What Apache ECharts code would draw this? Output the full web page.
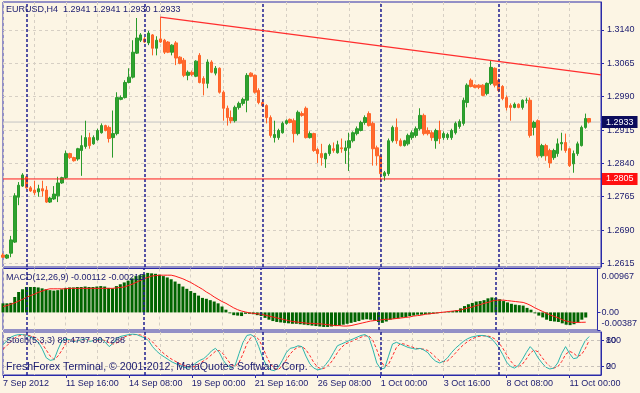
<!DOCTYPE html>
<html><head><meta charset="utf-8">
<script src="https://cdn.jsdelivr.net/npm/echarts@6/dist/echarts.min.js"></script>
<style>html,body{margin:0;padding:0;background:#FCF5E4}#c{width:640px;height:393px}</style>
</head><body><div id="c"></div>
<script>
const symbolTitle = 'EURUSD,H4  1.2941 1.2941 1.2930 1.2933';
const macdTitle = 'MACD(12,26,9) -0.00112 -0.00215';
const stochTitle = 'Stoch(5,3,3) 89.4737 80.7288';
const copyright = 'FreshForex Terminal, \u00A9 2001-2012, MetaQuotes Software Corp.';
const timeTickLabels = ['7 Sep 2012','11 Sep 16:00','14 Sep 08:00','19 Sep 00:00','21 Sep 16:00','26 Sep 08:00','1 Oct 00:00','3 Oct 16:00','8 Oct 08:00','11 Oct 00:00'];
const priceTicks = [1.2615,1.2690,1.2765,1.2840,1.2915,1.2990,1.3065,1.3140];
const macdTicks = [-0.00387, 0, 0.00967];
const stochLevels = [20, 80];
const supportLevel = 1.2805;
const bidPrice = 1.2933;
const trendStart = [40, 1.3169];
const trendEnd = [152, 1.3039];
const weekSeparators = [6, 36, 66, 96, 126];

const opens = [
1.2634,1.2627,1.2638,1.2663,1.2764,1.2789,1.2810,1.2785,1.2780,1.2776,
1.2783,1.2780,1.2753,1.2760,1.2767,1.2796,1.2808,1.2862,1.2853,1.2850,
1.2869,1.2878,1.2898,1.2884,1.2893,1.2909,1.2925,1.2921,1.2898,1.2907,
1.2984,1.2988,1.3022,1.3034,1.3088,1.3117,1.3120,1.3111,1.3129,1.3099,
1.3120,1.3117,1.3113,1.3090,1.3111,1.3079,1.3072,1.3038,1.3045,1.3036,
1.3083,1.3031,1.3020,1.3068,1.3043,1.3054,1.3000,1.2964,1.2943,1.2936,
1.2966,1.2975,1.2982,1.3043,1.3038,1.3004,1.2977,1.2970,1.2943,1.2898,
1.2898,1.2909,1.2930,1.2939,1.2936,1.2907,1.2952,1.2964,1.2898,1.2907,
1.2871,1.2862,1.2850,1.2862,1.2873,1.2864,1.2875,1.2869,1.2875,1.2891,
1.2907,1.2914,1.2932,1.2952,1.2930,1.2875,1.2857,1.2812,1.2817,1.2891,
1.2921,1.2891,1.2880,1.2884,1.2898,1.2903,1.2918,1.2948,1.2914,1.2909,
1.2891,1.2914,1.2898,1.2898,1.2898,1.2909,1.2923,1.2930,1.2977,1.3027,
1.3016,1.3016,1.3016,1.2997,1.3020,1.3054,1.3027,1.3013,1.2988,1.2970,
1.2966,1.2973,1.2966,1.2982,1.2982,1.2921,1.2936,1.2857,1.2880,1.2869,
1.2853,1.2862,1.2884,1.2887,1.2873,1.2839,1.2862,1.2880,1.2921,1.2941];
const closes = [
1.2629,1.2634,1.2668,1.2767,1.2791,1.2814,1.2785,1.2778,1.2774,1.2783,
1.2778,1.2753,1.2762,1.2771,1.2796,1.2808,1.2862,1.2853,1.2846,1.2873,
1.2880,1.2898,1.2880,1.2898,1.2914,1.2925,1.2914,1.2896,1.2907,1.2988,
1.2988,1.3022,1.3034,1.3090,1.3122,1.3129,1.3113,1.3133,1.3099,1.3117,
1.3113,1.3090,1.3090,1.3106,1.3077,1.3065,1.3038,1.3045,1.3040,1.3070,
1.3022,1.3020,1.3068,1.3045,1.3054,1.3000,1.2964,1.2943,1.2936,1.2966,
1.2975,1.2984,1.3038,1.3036,1.3000,1.2977,1.2970,1.2943,1.2903,1.2905,
1.2914,1.2930,1.2936,1.2932,1.2907,1.2955,1.2948,1.2898,1.2907,1.2869,
1.2862,1.2853,1.2862,1.2880,1.2869,1.2882,1.2873,1.2875,1.2891,1.2909,
1.2918,1.2932,1.2943,1.2925,1.2873,1.2857,1.2817,1.2819,1.2891,1.2921,
1.2891,1.2880,1.2891,1.2903,1.2909,1.2918,1.2948,1.2907,1.2907,1.2898,
1.2914,1.2896,1.2907,1.2905,1.2914,1.2930,1.2934,1.2982,1.3016,1.3013,
1.3011,1.3011,1.2993,1.3020,1.3056,1.3016,1.3004,1.2986,1.2966,1.2966,
1.2973,1.2966,1.2982,1.2982,1.2903,1.2932,1.2857,1.2880,1.2857,1.2841,
1.2869,1.2884,1.2887,1.2869,1.2835,1.2862,1.2884,1.2921,1.2941,1.2933];
const lows = [
1.2627,1.2625,1.2629,1.2661,1.2746,1.2787,1.2783,1.2776,1.2769,1.2765,
1.2765,1.2751,1.2751,1.2758,1.2753,1.2794,1.2805,1.2850,1.2844,1.2846,
1.2812,1.2873,1.2873,1.2882,1.2891,1.2907,1.2912,1.2887,1.2853,1.2903,
1.2982,1.2986,1.3020,1.3031,1.3086,1.3113,1.3111,1.3106,1.3083,1.3083,
1.3111,1.3086,1.3088,1.3083,1.3061,1.3063,1.3034,1.3027,1.3036,1.3034,
1.3020,1.2993,1.3009,1.3043,1.3038,1.2997,1.2936,1.2925,1.2930,1.2932,
1.2961,1.2970,1.2955,1.3034,1.2997,1.2973,1.2968,1.2930,1.2898,1.2887,
1.2893,1.2907,1.2927,1.2930,1.2887,1.2903,1.2945,1.2896,1.2896,1.2866,
1.2841,1.2835,1.2830,1.2857,1.2864,1.2862,1.2864,1.2839,1.2823,1.2887,
1.2903,1.2912,1.2927,1.2923,1.2835,1.2835,1.2798,1.2801,1.2812,1.2887,
1.2884,1.2878,1.2878,1.2880,1.2893,1.2898,1.2914,1.2903,1.2903,1.2891,
1.2873,1.2884,1.2893,1.2893,1.2893,1.2905,1.2918,1.2925,1.2966,1.3011,
1.3009,1.3007,1.2991,1.2993,1.3016,1.3011,1.3000,1.2982,1.2959,1.2936,
1.2964,1.2964,1.2961,1.2975,1.2898,1.2903,1.2853,1.2853,1.2846,1.2830,
1.2848,1.2855,1.2869,1.2864,1.2832,1.2819,1.2857,1.2878,1.2918,1.2930];
const highs = [
1.2638,1.2636,1.2677,1.2773,1.2798,1.2818,1.2812,1.2789,1.2801,1.2792,
1.2801,1.2789,1.2765,1.2789,1.2810,1.2810,1.2869,1.2864,1.2855,1.2875,
1.2903,1.2936,1.2909,1.2903,1.2918,1.2930,1.2927,1.2925,1.2959,1.3000,
1.2993,1.3027,1.3054,1.3117,1.3167,1.3133,1.3124,1.3138,1.3131,1.3126,
1.3169,1.3120,1.3115,1.3108,1.3115,1.3081,1.3077,1.3049,1.3049,1.3072,
1.3088,1.3036,1.3074,1.3072,1.3059,1.3056,1.3004,1.2970,1.2959,1.2970,
1.2979,1.2988,1.3043,1.3045,1.3040,1.3009,1.2982,1.2973,1.2948,1.2936,
1.2918,1.2934,1.2939,1.2941,1.2941,1.2959,1.2957,1.2968,1.2912,1.2909,
1.2875,1.2884,1.2864,1.2884,1.2887,1.2891,1.2896,1.2891,1.2909,1.2912,
1.2923,1.2936,1.2948,1.2957,1.2934,1.2880,1.2860,1.2823,1.2896,1.2925,
1.2941,1.2896,1.2893,1.2907,1.2914,1.2923,1.2964,1.2952,1.2921,1.2914,
1.2918,1.2936,1.2912,1.2909,1.2918,1.2934,1.2939,1.2988,1.3020,1.3031,
1.3018,1.3018,1.3018,1.3022,1.3072,1.3056,1.3031,1.3016,1.2993,1.2975,
1.2977,1.2975,1.2984,1.2988,1.2988,1.2936,1.2939,1.2884,1.2884,1.2873,
1.2873,1.2896,1.2909,1.2907,1.2875,1.2869,1.2889,1.2925,1.2952,1.2941];

const macdHist = [
0.0020,0.0020,0.0021,0.0034,0.0045,0.0051,0.0056,0.0056,0.0056,0.0055,
0.0053,0.0051,0.0049,0.0048,0.0049,0.0051,0.0054,0.0055,0.0055,0.0056,
0.0056,0.0057,0.0056,0.0056,0.0057,0.0058,0.0057,0.0054,0.0053,0.0058,
0.0062,0.0066,0.0070,0.0075,0.0080,0.0082,0.0084,0.0087,0.0086,0.0085,
0.0083,0.0080,0.0077,0.0073,0.0068,0.0063,0.0057,0.0052,0.0047,0.0043,
0.0037,0.0032,0.0030,0.0027,0.0024,0.0020,0.0013,0.0006,-0.0002,-0.0006,
-0.0007,-0.0008,-0.0003,-0.0003,-0.0004,-0.0006,-0.0008,-0.0012,-0.0016,-0.0019,
-0.0021,-0.0022,-0.0023,-0.0024,-0.0025,-0.0025,-0.0026,-0.0027,-0.0028,-0.0029,
-0.0030,-0.0031,-0.0032,-0.0032,-0.0031,-0.0030,-0.0029,-0.0027,-0.0025,-0.0023,
-0.0021,-0.0019,-0.0016,-0.0015,-0.0016,-0.0018,-0.0021,-0.0023,-0.0020,-0.0016,
-0.0014,-0.0013,-0.0011,-0.0010,-0.0008,-0.0007,-0.0005,-0.0005,-0.0004,-0.0004,
-0.0003,-0.0002,-0.0001,0.0001,0.0002,0.0003,0.0005,0.0009,0.0014,0.0018,
0.0021,0.0024,0.0025,0.0027,0.0031,0.0033,0.0032,0.0029,0.0025,0.0022,
0.0019,0.0017,0.0016,0.0015,0.0010,0.0006,-0.0002,-0.0007,-0.0011,-0.0016,
-0.0019,-0.0020,-0.0021,-0.0024,-0.0027,-0.0028,-0.0026,-0.0022,-0.0016,-0.00112];
const macdSignal = [
0.0013,0.0015,0.0018,0.0021,0.0025,0.0029,0.0033,0.0037,0.0040,0.0044,
0.0047,0.0050,0.0052,0.0052,0.0052,0.0052,0.0052,0.0053,0.0053,0.0053,
0.0053,0.0053,0.0053,0.0053,0.0053,0.0053,0.0053,0.0053,0.0053,0.0054,
0.0055,0.0056,0.0059,0.0062,0.0066,0.0070,0.0074,0.0077,0.0080,0.0081,
0.0082,0.0082,0.0082,0.0082,0.0080,0.0077,0.0074,0.0070,0.0066,0.0061,
0.0056,0.0051,0.0045,0.0040,0.0034,0.0029,0.0024,0.0020,0.0015,0.0010,
0.0006,0.0003,0.0001,-0.0001,-0.0002,-0.0003,-0.0004,-0.0006,-0.0008,-0.0010,
-0.0012,-0.0014,-0.0016,-0.0018,-0.0020,-0.0021,-0.0022,-0.0023,-0.0024,-0.0024,
-0.0025,-0.0025,-0.0026,-0.0027,-0.0028,-0.0029,-0.0029,-0.0030,-0.0030,-0.0029,
-0.0027,-0.0025,-0.0023,-0.0021,-0.0019,-0.0018,-0.0017,-0.0016,-0.0015,-0.0015,
-0.0014,-0.0013,-0.0012,-0.0011,-0.0010,-0.0008,-0.0007,-0.0006,-0.0004,-0.0003,
-0.0002,-0.0001,0.0000,0.0001,0.0002,0.0003,0.0004,0.0005,0.0008,0.0010,
0.0012,0.0015,0.0017,0.0020,0.0022,0.0025,0.0027,0.0027,0.0027,0.0026,
0.0025,0.0024,0.0023,0.0022,0.0019,0.0015,0.0010,0.0006,0.0002,-0.0002,
-0.0006,-0.0009,-0.0012,-0.0016,-0.0019,-0.0021,-0.0022,-0.0022,-0.00218,-0.00215];

const stochMain = [
70,80,88,92,94,94,92,88,84,76,
60,40,34,36,60,80,84,82,78,80,
82,84,78,80,82,84,76,66,74,86,
90,92,94,95,94,90,86,80,66,56,
48,42,36,30,26,22,18,16,20,28,
34,38,46,56,62,52,34,22,16,22,
50,76,92,94,88,66,40,22,12,10,
18,34,52,62,64,68,66,44,26,16,
12,14,24,36,52,68,72,76,80,84,
88,92,94,88,60,28,14,16,44,72,
76,72,68,64,62,60,62,58,52,40,
32,28,32,40,52,62,70,78,84,88,
90,92,92,90,86,76,64,48,30,20,
16,22,36,52,66,56,40,28,18,14,
16,28,50,66,50,38,40,62,80,89.4737];
const stochSignal = [
60,68,78,86,91,93,93,91,88,82,
72,58,44,36,44,58,74,82,81,80,
80,82,81,80,80,82,80,75,72,75,
83,89,92,94,94,93,90,85,77,67,
57,49,42,36,31,26,22,19,18,21,
27,33,39,47,55,57,49,36,24,20,
29,49,73,87,91,83,65,43,25,15,
13,21,35,49,59,65,66,59,45,29,
18,14,17,25,37,52,64,72,76,80,
84,88,91,91,81,59,34,19,25,44,
64,73,72,68,65,62,61,60,57,50,
41,33,31,33,41,51,61,70,77,83,
87,90,91,91,89,84,75,63,47,33,
22,19,25,37,51,58,54,41,29,20,
16,19,31,48,55,51,43,47,61,80.7288];

// H4 bar times (weekdays only), plus empty right-shift slots
const categories = [];
for (let t = Date.UTC(2012, 8, 7); categories.length < 153; t += 4 * 3600e3) {
  const d = new Date(t); const wd = d.getUTCDay();
  if (wd === 0 || wd === 6) continue;
  categories.push(d.toISOString().slice(0, 16).replace('T', ' '));
}
const lastSlot = categories.length - 1;

const FONT = "'Liberation Sans', Arial, sans-serif";
const NAVY = '#1B1B70';
const FRAME = '#2A2AA8';
const GRIDC = '#D6CFC4';
const SEP = { color: '#1E1E90', width: 1.5, type: [3, 2] };
const every16 = (i) => i % 16 === 0 && i / 16 < timeTickLabels.length;
const every8 = (i) => i % 8 === 0;
const sepLines = weekSeparators.map(b => ({ xAxis: b, lineStyle: SEP }));

const grids = [
  { left: 3, top: 2, width: 598, height: 265 },
  { left: 3, top: 268.5, width: 598, height: 61.5 },
  { left: 3, top: 332, width: 598, height: 43 }
].map(g => Object.assign(g, { show: true, borderColor: FRAME, borderWidth: 1, backgroundColor: 'transparent' }));

function xAx(idx, bottom) {
  return {
    type: 'category', gridIndex: idx, data: categories, boundaryGap: false,
    axisLine: { show: bottom, lineStyle: { color: FRAME } },
    axisTick: { show: bottom, interval: every16, length: 3, lineStyle: { color: FRAME } },
    axisLabel: { show: bottom, interval: every16, align: 'left', margin: 4, fontSize: 9, fontFamily: FONT, color: NAVY,
      formatter: (v, i) => timeTickLabels[i / 16] },
    splitLine: { show: true, interval: every8, lineStyle: { color: GRIDC, type: [3, 3], width: 1 } }
  };
}

// horizontal price level drawn as a 2-point line series with a boxed end label
function levelSeries(level, lineColor, boxColor, z) {
  return {
    type: 'line', xAxisIndex: 0, yAxisIndex: 0, z: z, clip: false, silent: true,
    data: [[0, level], [lastSlot, level]],
    showSymbol: false, symbol: 'none',
    lineStyle: { color: lineColor, width: 1, type: 'solid' },
    itemStyle: { color: lineColor },
    endLabel: { show: true, distance: 1, formatter: () => level.toFixed(4), backgroundColor: boxColor,
      color: '#FFFFFF', padding: [2, 4, 1, 4], fontSize: 9, fontFamily: FONT }
  };
}

const option = {
  animation: false,
  backgroundColor: '#FCF5E4',
  textStyle: { fontFamily: FONT },
  title: [
    { text: symbolTitle, left: 6, top: 5, padding: 0, textStyle: { fontSize: 9, fontWeight: 'normal', color: NAVY, fontFamily: FONT } },
    { text: macdTitle, left: 6, top: 273, padding: 0, textStyle: { fontSize: 9, fontWeight: 'normal', color: NAVY, fontFamily: FONT } },
    { text: stochTitle, left: 6, top: 336.5, padding: 0, textStyle: { fontSize: 9, fontWeight: 'normal', color: NAVY, fontFamily: FONT } },
    { text: copyright, left: 6, top: 362, padding: 0, textStyle: { fontSize: 10.6, fontWeight: 'normal', color: NAVY, fontFamily: FONT } }
  ],
  grid: grids,
  xAxis: [xAx(0, false), xAx(1, false), xAx(2, true)],
  yAxis: [
    { type: 'value', gridIndex: 0, position: 'right', min: 1.2607, max: 1.3203,
      axisLine: { show: true, lineStyle: { color: FRAME } },
      axisTick: { show: true, customValues: priceTicks, length: 3, lineStyle: { color: FRAME } },
      axisLabel: { customValues: priceTicks, formatter: v => v.toFixed(4), margin: 6, fontSize: 9, color: NAVY, fontFamily: FONT },
      splitLine: { show: true, lineStyle: { color: GRIDC, type: [3, 3] } } },
    { type: 'value', gridIndex: 1, position: 'right', min: macdTicks[0], max: macdTicks[2],
      axisLine: { show: true, lineStyle: { color: FRAME } },
      axisTick: { show: true, customValues: macdTicks, length: 3, lineStyle: { color: FRAME } },
      axisLabel: { customValues: macdTicks, margin: 4, fontSize: 9, color: NAVY, fontFamily: FONT,
        formatter: v => v === macdTicks[2] ? '{t|' + v.toFixed(5) + '}' : v === macdTicks[0] ? '{b|' + v.toFixed(5) + '}' : '0.00',
        rich: { t: { padding: [16, 0, 0, 0], fontSize: 9, color: NAVY, fontFamily: FONT }, b: { padding: [0, 0, 12, 0], fontSize: 9, color: NAVY, fontFamily: FONT } } },
      splitLine: { show: false } },
    { type: 'value', gridIndex: 2, position: 'right', min: 0, max: 100,
      axisLine: { show: true, lineStyle: { color: FRAME } },
      axisTick: { show: true, customValues: stochLevels, length: 3, lineStyle: { color: FRAME } },
      axisLabel: { customValues: stochLevels, margin: 5, fontSize: 9, color: NAVY, fontFamily: FONT },
      splitLine: { show: false } },
    { type: 'value', gridIndex: 2, position: 'right', min: 0, max: 100,
      axisLine: { show: false }, axisTick: { show: false },
      axisLabel: { customValues: stochLevels, margin: 5, fontSize: 9, color: NAVY, fontFamily: FONT, formatter: v => v === 80 ? '100' : '0' },
      splitLine: { show: false } }
  ],
  series: [
    // week separators in the price panel (behind candles)
    { type: 'line', name: 'sep', xAxisIndex: 0, yAxisIndex: 0, data: [], z: 1,
      markLine: { symbol: ['none', 'none'], silent: true, animation: false, label: { show: false }, data: sepLines } },
    levelSeries(bidPrice, '#C4C4C4', '#0C0C5C', 1),
    { type: 'candlestick', xAxisIndex: 0, yAxisIndex: 0, barWidth: 3, clip: false, z: 3,
      data: opens.map((o, i) => [o, closes[i], lows[i], highs[i]]),
      itemStyle: { color: '#2FA22F', color0: '#FF6A2E', borderColor: '#2A9A2A', borderColor0: '#FF6428', borderWidth: 1 } },
    levelSeries(supportLevel, '#FF1A1A', '#FF1010', 5),
    { type: 'line', name: 'trend', xAxisIndex: 0, yAxisIndex: 0, data: [], z: 5,
      markLine: { symbol: ['none', 'none'], silent: true, animation: false, label: { show: false },
        data: [ [ { coord: trendStart, lineStyle: { color: '#FF2E2E', width: 1.3, type: 'solid' } }, { coord: trendEnd } ] ] } },
    { type: 'bar', xAxisIndex: 1, yAxisIndex: 1, data: macdHist, barWidth: 3, clip: false,
      itemStyle: { color: '#006400' },
      markLine: { symbol: ['none', 'none'], silent: true, label: { show: false }, data: sepLines } },
    { type: 'line', xAxisIndex: 1, yAxisIndex: 1, data: macdSignal, showSymbol: false, z: 4,
      lineStyle: { color: '#FF1A1A', width: 1 } },
    { type: 'line', xAxisIndex: 2, yAxisIndex: 2, data: stochMain, showSymbol: false, z: 4,
      lineStyle: { color: '#2BB5AC', width: 1 },
      markLine: { symbol: ['none', 'none'], silent: true, label: { show: false },
        data: sepLines.concat(stochLevels.map(v => ({ yAxis: v, lineStyle: { color: '#C8C2BA', type: [3, 3], width: 1 } }))) } },
    { type: 'line', xAxisIndex: 2, yAxisIndex: 2, data: stochSignal, showSymbol: false, z: 3,
      lineStyle: { color: '#FF2A2A', width: 1, type: [3, 2] } }
  ]
};
echarts.init(document.getElementById('c'), null, { renderer: 'canvas' }).setOption(option);
</script></body></html>
